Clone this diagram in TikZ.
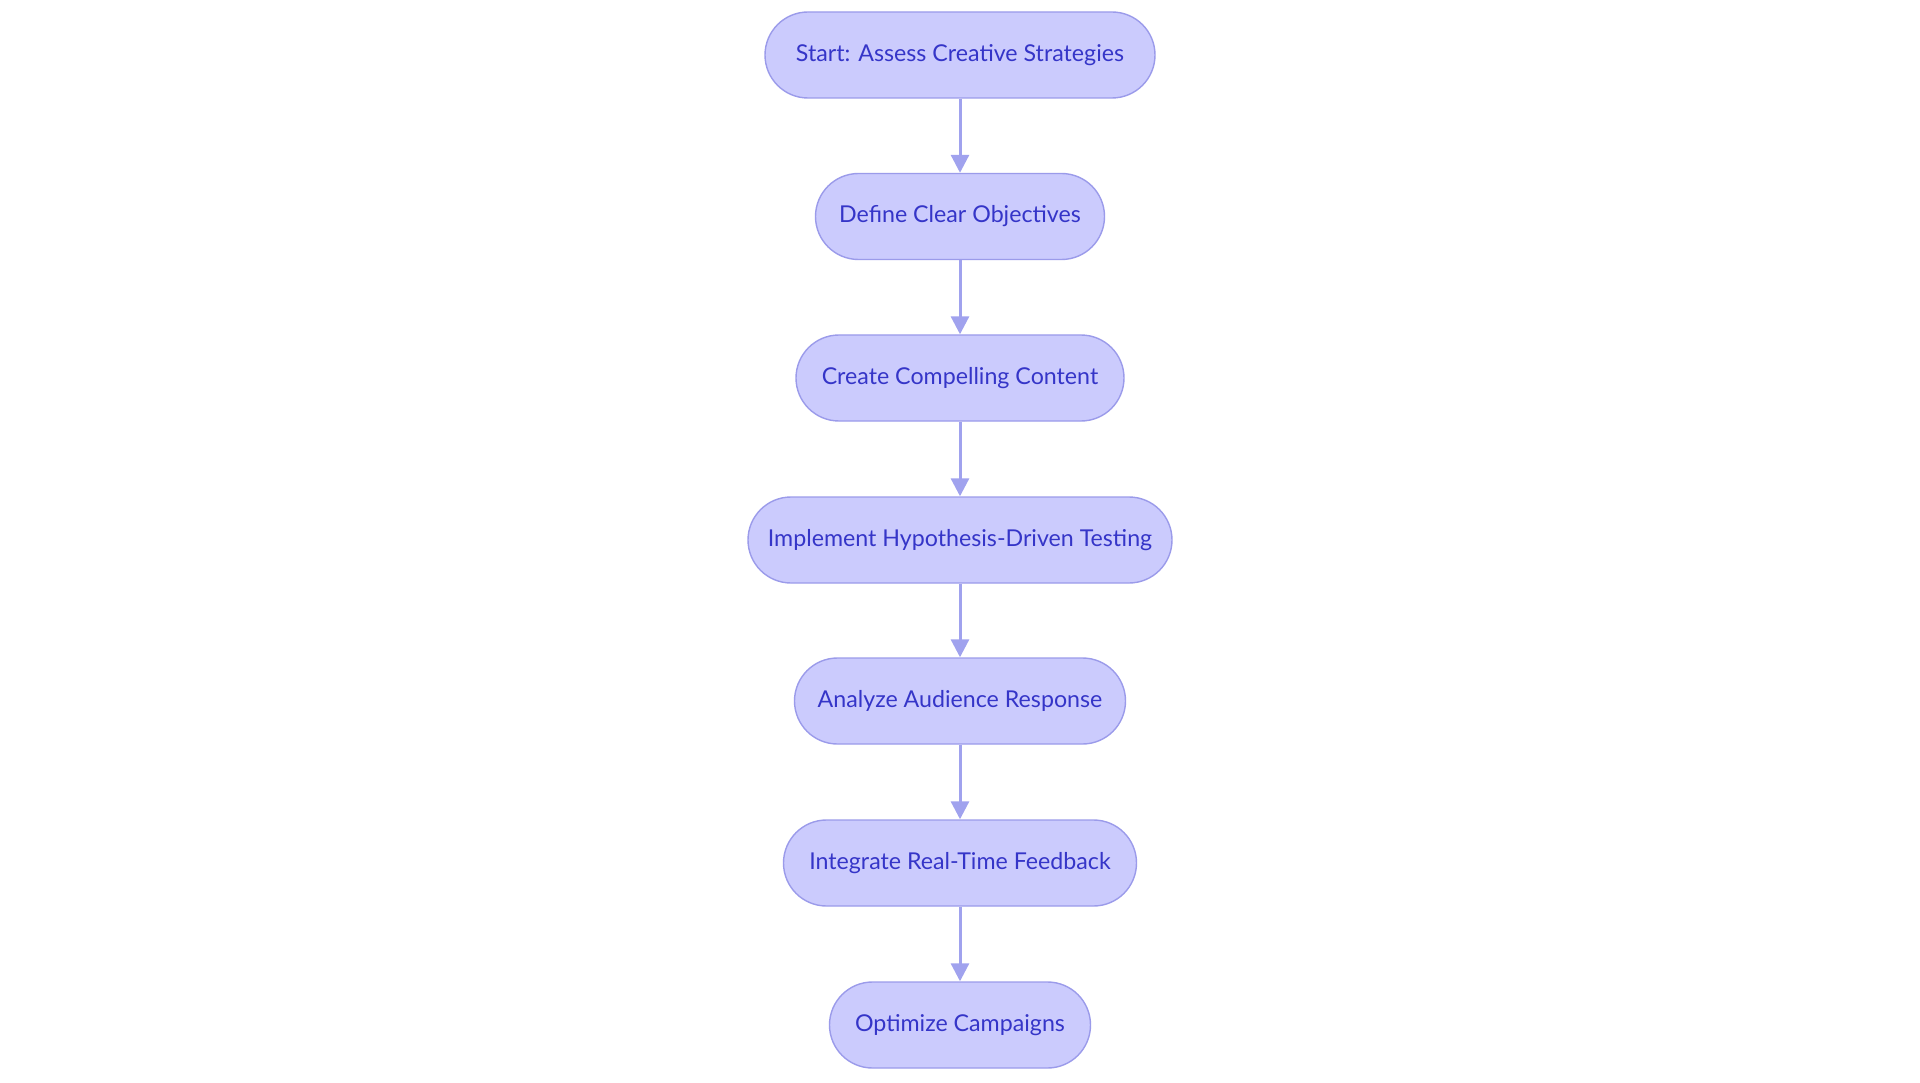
\documentclass[tikz,border=0pt]{standalone}
\usepackage{fontspec}
\setmainfont{Lato}
\usetikzlibrary{arrows.meta}
\definecolor{nfill}{HTML}{CBCBFD}
\definecolor{nline}{HTML}{9B9BEA}
\definecolor{ntext}{HTML}{3535C8}
\definecolor{aline}{HTML}{A0A2EE}
\begin{document}
\begin{tikzpicture}[x=1pt,y=-1pt,
  box/.style={draw=nline,line width=1.4pt,fill=nfill,rounded corners=43pt,minimum height=86pt,inner sep=0pt,text=ntext,font=\fontsize{23.2}{27}\selectfont},
  arr/.style={draw=aline,line width=3pt,-{Triangle[length=18pt,width=18pt]}}]
\useasboundingbox (0,0) rectangle (1920,1083);
\node[box,minimum width=390pt] (n1) at (960,55) {Start: Assess Creative Strategies};
\node[box,minimum width=289pt] (n2) at (960,216.5) {Define Clear Objectives};
\node[box,minimum width=328pt] (n3) at (960,378) {Create Compelling Content};
\node[box,minimum width=424pt] (n4) at (960,540) {Implement Hypothesis-Driven Testing};
\node[box,minimum width=331pt] (n5) at (960,701) {Analyze Audience Response};
\node[box,minimum width=353pt] (n6) at (960,863) {Integrate Real-Time Feedback};
\node[box,minimum width=261pt] (n7) at (960,1025) {Optimize Campaigns};
\foreach \a/\b in {n1/n2,n2/n3,n3/n4,n4/n5,n5/n6,n6/n7}
  \draw[arr] (\a) -- (\b);
\end{tikzpicture}
\end{document}
